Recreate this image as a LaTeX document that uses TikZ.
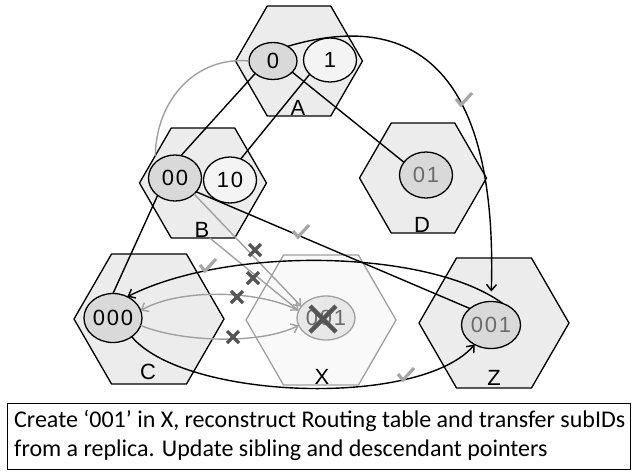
\documentclass[tikz,border=0pt]{standalone}
\usepackage{fontspec}
\usepackage{graphicx}
\setmainfont{Liberation Sans}
\newfontfamily\digitfont[LetterSpace=8]{Liberation Sans}
\newfontfamily\boxfont{Carlito}
\usetikzlibrary{shapes.geometric,arrows.meta,calc}
\definecolor{hexfill}{HTML}{ECECEC}
\definecolor{darkfill}{HTML}{D9D9D9}
\definecolor{lightfill}{HTML}{F4F4F4}
\definecolor{ghostfill}{HTML}{F9F9F9}
\definecolor{ghostline}{HTML}{A0A0A0}
\definecolor{ghostoval}{HTML}{E8E8E8}
\definecolor{graytext}{HTML}{6B6B6B}
\definecolor{chkcol}{HTML}{A6A6A6}
\definecolor{crosscol}{HTML}{555555}
\tikzset{
  hexa/.style={regular polygon, regular polygon sides=6, draw=black, fill=hexfill,
    line width=1.3pt, inner sep=0pt, outer sep=0pt},
  smallhex/.style={hexa, minimum size=127pt},
  bighex/.style={hexa, minimum size=150pt},
  oval/.style={ellipse, draw=black, fill=darkfill, line width=1.3pt, inner sep=0pt, outer sep=0pt,
    font={\digitfont\fontsize{22}{24}\selectfont}},
  lightoval/.style={oval, fill=lightfill},
  grayoval/.style={oval, text=graytext},
  hexlabel/.style={inner sep=0pt, font={\fontsize{22}{24}\selectfont}},
  blackline/.style={draw=black, line width=1.4pt},
  grayline/.style={draw=ghostline, line width=1.4pt},
  arr/.style={-{Straight Barb[length=6pt,width=10pt]}},
  chk/.style={draw=chkcol, line width=3.2pt},
  crossmark/.style={draw=crosscol, line width=3.5pt},
}
\newcommand\chkmark[2]{\draw[chk] (#1-7,#2-1) -- (#1-2,#2+5) -- (#1+9,#2-7);}
\newcommand\xmark[4]{\draw[crossmark, line width=#4] (#1-#3,#2-#3) -- (#1+#3,#2+#3) (#1-#3,#2+#3) -- (#1+#3,#2-#3);}
\begin{document}
\begin{tikzpicture}[x=1pt,y=-1pt]
\useasboundingbox (0,0) rectangle (637,472);
\fill[white] (0,0) rectangle (637,472);

% hexagons
\node[smallhex] (hA) at (299,61) {};
\node[smallhex] (hB) at (203,183) {};
\node[smallhex] (hD) at (423,178) {};
\node[bighex] (hC) at (149,319) {};
\node[bighex, draw=ghostline, fill=ghostfill] (hX) at (321,320) {};
\node[bighex] (hZ) at (494,323) {};

% hexagon labels
\node[hexlabel] (lA) at (298,108) {A};
\node[hexlabel] (lB) at (202,230) {B};
\node[hexlabel] (lD) at (422,225) {D};
\node[hexlabel] (lC) at (148,372) {C};
\node[hexlabel] (lX) at (322,377) {X};
\node[hexlabel] (lZ) at (494,378) {Z};

% ovals
\node[oval, minimum width=48pt, minimum height=37pt] (e0) at (273,61) {0};
\node[lightoval, minimum width=53pt, minimum height=44pt] (e1) at (330,60) {1};
\node[oval, minimum width=53pt, minimum height=46pt] (e00) at (175,178) {00};
\node[lightoval, minimum width=53pt, minimum height=46pt] (e10) at (230,180) {10};
\node[grayoval, minimum width=53pt, minimum height=46pt] (e01) at (426,175) {01};
\node[oval, minimum width=58pt, minimum height=49pt] (e000) at (113,318) {000};
\node[grayoval, minimum width=58pt, minimum height=44pt, draw=ghostline, fill=ghostoval] (eX) at (326,318) {001};
\node[grayoval, minimum width=59pt, minimum height=47pt] (eZ) at (491,325) {001};

% gray connectors
\draw[grayline] (e0.west) .. controls (196,56) and (156,100) .. (hB.150);
\draw[grayline, arr] (e00.-40) -- (eX.155);
\draw[grayline, arr] (hB.-83) -- (eX.165);
\draw[grayline, arr] (eX.165) .. controls (260,290) and (180,288) .. (e000.15);
\draw[grayline, arr] (e000.-15) .. controls (180,342) and (260,345) .. (eX.195);

% black connectors
\draw[blackline] (e0.215) -- (e00.75);
\draw[blackline] (e1.215) -- (e10.63);
\draw[blackline] (e0.-30) -- (e01.150);
\draw[blackline] (e00.225) -- (e000.north);
\draw[blackline] (e00.-33) -- (eZ.142);
\draw[blackline, arr, shorten >=10pt] (e0.45) .. controls (410,10) and (498,65) .. (eZ.north);
\draw[blackline, arr] (eZ.62) .. controls (430,250) and (230,245) .. (e000.56);
\draw[blackline, arr] (e000.-45) .. controls (185,400) and (420,408) .. (eZ.230);

% check marks
\chkmark{463}{100}
\chkmark{300}{232}
\chkmark{207}{266}
\chkmark{405}{375}

% cross marks
\xmark{255}{250}{6}{3.5pt}
\xmark{253}{278}{6}{3.5pt}
\xmark{237}{297}{6}{3.5pt}
\xmark{233}{337}{6}{3.5pt}
\xmark{323}{319}{13}{4.5pt}

% caption box
\node[draw=black, line width=1.2pt, anchor=north west, minimum width=623pt, minimum height=66pt, inner sep=0pt] (box) at (7,403) {};
\node[anchor=west, inner sep=0pt, font=\boxfont] (txt) at (14,436)
  {\resizebox{611pt}{!}{\fontsize{21}{26}\selectfont\begin{tabular}{@{}l@{}}Create ‘001’ in X, reconstruct Routing table and transfer subIDs\\from a replica. Update sibling and descendant pointers\end{tabular}}};
\end{tikzpicture}
\end{document}
